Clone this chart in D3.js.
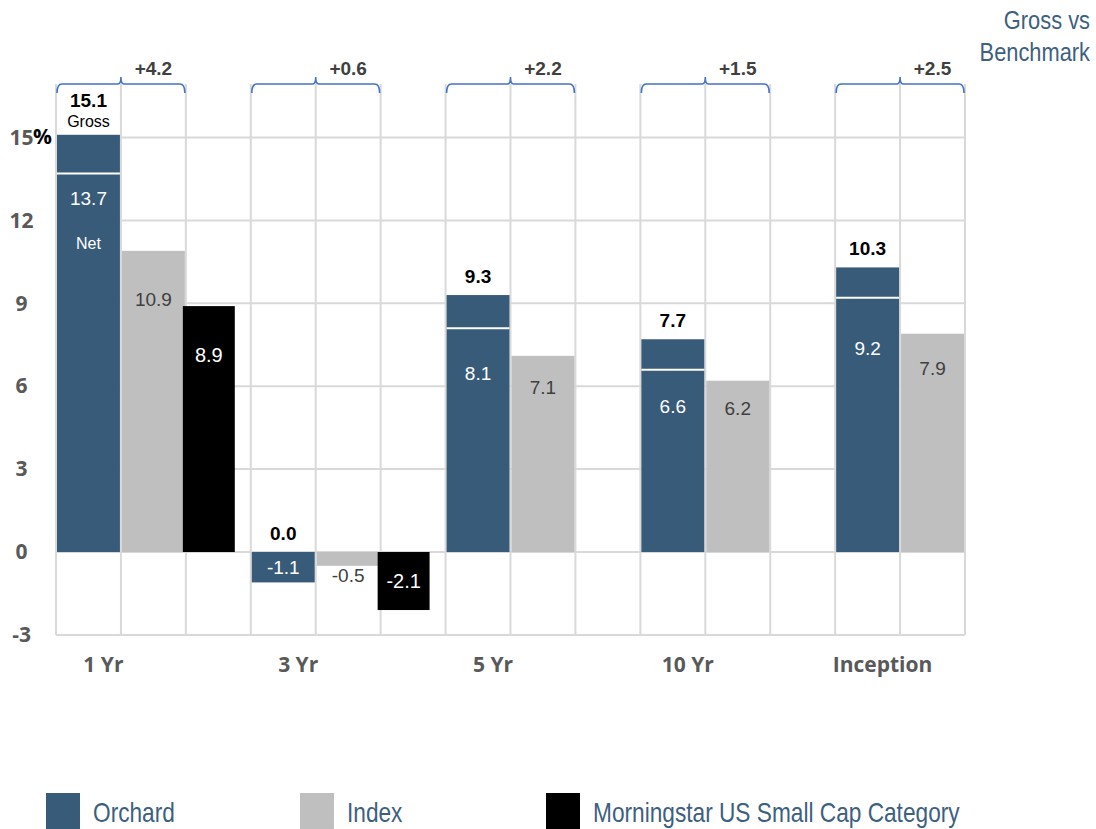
<!DOCTYPE html>
<html>
<head>
<meta charset="utf-8">
<script src="https://cdn.jsdelivr.net/npm/d3@7"></script>
<style>
  body { margin: 0; background: #fff; }
  svg { display: block; }
</style>
</head>
<body>
<svg id="chart" width="1096" height="829"></svg>
<script>
// data
var categories = ["1 Yr", "3 Yr", "5 Yr", "10 Yr", "Inception"];
var seriesNames = ["Orchard", "Index", "Morningstar US Small Cap Category"];
var orchardGross = [15.1, 0.0, 9.3, 7.7, 10.3];
var orchardNet = [13.7, -1.1, 8.1, 6.6, 9.2];
var indexValues = [10.9, -0.5, 7.1, 6.2, 7.9];
var morningstarValues = [8.9, -2.1, null, null, null];
var grossVsBenchmark = [4.2, 0.6, 2.2, 1.5, 2.5];
var yTicks = [-3, 0, 3, 6, 9, 12, 15];

var ORCHARD = "#385b7a", INDEX = "#bfbfbf", MSTAR = "#000000";
var TXT = "#3d5f80", GRID = "#d9d9d9";

var fmt = d3.formatLocale({ decimal: ".", thousands: ",", grouping: [3], currency: ["", ""], minus: "-" });
var f1 = fmt.format(".1f");

var svg = d3.select("#chart");
var left = 56, cw = (965 - 56) / 14;

var gx = d3.scaleBand().domain(categories).range([left, left + 15 * cw]);
var sx = d3.scaleBand().domain(seriesNames).range([0, gx.bandwidth()]);
var y = d3.scaleLinear().domain([-3, 17]).range([634.9, 82.3]);
var right = left + 14 * cw;

var axisFont = "'Open Sans', Lato, sans-serif";
var valueFont = "'Liberation Sans', Arial, sans-serif";
var narrow = "'Liberation Sans', Arial, sans-serif";

// gridlines
svg.append("g").selectAll("line.h")
  .data(yTicks).enter().append("line")
  .attr("x1", left).attr("x2", right)
  .attr("y1", function(d) { return y(d); }).attr("y2", function(d) { return y(d); })
  .attr("stroke", GRID).attr("stroke-width", 2);

svg.append("g").selectAll("line.v")
  .data(d3.range(15)).enter().append("line")
  .attr("x1", function(i) { return left + i * cw; })
  .attr("x2", function(i) { return left + i * cw; })
  .attr("y1", 84).attr("y2", y(-3))
  .attr("stroke", GRID).attr("stroke-width", 2);

// y axis
var yAxis = svg.append("g")
  .attr("transform", "translate(" + left + ",0)")
  .call(d3.axisLeft(y).tickValues(yTicks).tickSize(0).tickFormat(fmt.format("d")));
yAxis.select(".domain").remove();
yAxis.selectAll("text")
  .attr("x", -34.5).attr("text-anchor", "middle")
  .attr("font-family", axisFont)
  .attr("font-weight", "bold").attr("font-size", 21).attr("fill", "#595959");
svg.append("text")
  .attr("x", 33).attr("y", y(15)).attr("dy", "0.32em")
  .attr("font-family", axisFont)
  .attr("font-weight", "bold").attr("font-size", 21).attr("fill", "#000")
  .text("%");

// x axis labels
var xAxis = svg.append("g")
  .attr("transform", "translate(0," + 657 + ")")
  .call(d3.axisBottom(gx).tickSize(0));
xAxis.select(".domain").remove();
xAxis.selectAll("text")
  .attr("dx", -50).attr("y", 0).attr("dy", "0.7em")
  .attr("font-family", axisFont)
  .attr("font-weight", "bold").attr("font-size", 21).attr("fill", "#595959");

var rows = categories.map(function(c, i) {
  return { cat: c, i: i, gross: orchardGross[i], net: orchardNet[i],
           index: indexValues[i], mstar: morningstarValues[i], diff: grossVsBenchmark[i] };
});

// Orchard bars (gross height, net marked by white line)
var og = svg.append("g").selectAll("g").data(rows).enter().append("g");
og.append("rect")
  .attr("x", function(d) { return gx(d.cat) + sx("Orchard") + 1; })
  .attr("width", cw - 2)
  .attr("y", function(d) { return y(Math.max(d.gross, d.net, 0)); })
  .attr("height", function(d) { return y(Math.min(d.net, 0)) - y(Math.max(d.gross, d.net, 0)); })
  .attr("fill", ORCHARD);
og.filter(function(d) { return d.net > 0 && d.net < d.gross; })
  .append("line")
  .attr("x1", function(d) { return gx(d.cat) + sx("Orchard") + 1; })
  .attr("x2", function(d) { return gx(d.cat) + sx("Orchard") + cw - 1; })
  .attr("y1", function(d) { return y(d.net); }).attr("y2", function(d) { return y(d.net); })
  .attr("stroke", "#fff").attr("stroke-width", 2);

// Index bars
svg.append("g").selectAll("rect").data(rows).enter().append("rect")
  .attr("x", function(d) { return gx(d.cat) + sx("Index") + 1; })
  .attr("width", cw - 2)
  .attr("y", function(d) { return y(Math.max(d.index, 0)); })
  .attr("height", function(d) { return Math.abs(y(d.index) - y(0)); })
  .attr("fill", INDEX);

// Morningstar bars
var mrows = rows.filter(function(d) { return d.mstar !== null; });
svg.append("g").selectAll("rect").data(mrows).enter().append("rect")
  .attr("x", function(d) { return gx(d.cat) + sx(seriesNames[2]) - 3; })
  .attr("width", cw * 0.8)
  .attr("y", function(d) { return y(Math.max(d.mstar, 0)); })
  .attr("height", function(d) { return Math.abs(y(d.mstar) - y(0)); })
  .attr("fill", MSTAR);

// labels inside bars
function insideY(v) {
  if (v < 0) return (y(0) + y(v)) / 2;
  return y(v * 0.8);
}
var labels = svg.append("g").attr("font-family", valueFont).attr("text-anchor", "middle");

labels.selectAll("text.net").data(rows).enter().append("text")
  .attr("x", function(d) { return gx(d.cat) + sx("Orchard") + cw / 2; })
  .attr("y", function(d) { return d.i === 0 ? y(d.net) + 25 : insideY(d.net); })
  .attr("dy", "0.35em").attr("font-size", 19).attr("fill", "#fff")
  .text(function(d) { return f1(d.net); });

labels.append("text")
  .attr("x", gx(categories[0]) + cw / 2).attr("y", y(orchardNet[0]) + 70)
  .attr("dy", "0.35em").attr("font-size", 16).attr("fill", "#fff").text("Net");

labels.selectAll("text.idx").data(rows).enter().append("text")
  .attr("x", function(d) { return gx(d.cat) + sx("Index") + cw / 2; })
  .attr("y", function(d) { return d.index < 0 ? y(d.index) + 10 : insideY(d.index * 1.05); })
  .attr("dy", "0.35em").attr("font-size", 19).attr("fill", "#404040")
  .text(function(d) { return f1(d.index); });

labels.selectAll("text.ms").data(mrows).enter().append("text")
  .attr("x", function(d) { return gx(d.cat) + sx(seriesNames[2]) - 3 + cw * 0.4; })
  .attr("y", function(d) { return insideY(d.mstar); })
  .attr("dy", "0.35em").attr("font-size", 20).attr("fill", "#fff")
  .text(function(d) { return f1(d.mstar); });

// gross labels above bars
labels.selectAll("text.gross").data(rows).enter().append("text")
  .attr("x", function(d) { return gx(d.cat) + sx("Orchard") + cw / 2; })
  .attr("y", function(d) { return d.i === 0 ? y(d.gross) - 34 : y(Math.max(d.gross, 0)) - 19; })
  .attr("dy", "0.35em").attr("font-size", 19).attr("font-weight", "bold").attr("fill", "#000")
  .text(function(d) { return f1(d.gross); });

labels.append("text")
  .attr("x", gx(categories[0]) + cw / 2).attr("y", y(orchardGross[0]) - 13)
  .attr("dy", "0.35em").attr("font-size", 16).attr("fill", "#000")
  .text("Gross");

// brackets: gross vs benchmark
var bt = 84, bb = 93;
svg.append("g").selectAll("path").data(rows).enter().append("path")
  .attr("d", function(d) {
    var a = gx(d.cat) + 1, b = gx(d.cat) + 2 * cw - 1, c = gx(d.cat) + cw;
    return "M" + a + "," + bb + " Q" + a + "," + bt + " " + (a + 5) + "," + bt +
      " L" + (c - 3) + "," + bt + " Q" + c + "," + bt + " " + c + "," + (bt - 7) +
      " Q" + c + "," + bt + " " + (c + 3) + "," + bt +
      " L" + (b - 5) + "," + bt + " Q" + b + "," + bt + " " + b + "," + bb;
  })
  .attr("fill", "none").attr("stroke", "#4472c4").attr("stroke-width", 1.6);

svg.append("g").selectAll("text").data(rows).enter().append("text")
  .attr("x", function(d) { return gx(d.cat) + 1.5 * cw; })
  .attr("y", 68).attr("dy", "0.35em").attr("text-anchor", "middle")
  .attr("font-family", valueFont).attr("font-size", 19).attr("font-weight", "bold")
  .attr("fill", "#404040")
  .text(function(d) { return "+" + f1(d.diff); });

// top right caption (condensed look)
["Gross vs", "Benchmark"].forEach(function(t, i) {
  svg.append("text")
    .attr("transform", "translate(1090," + (29 + i * 32) + ") scale(0.84,1)")
    .attr("text-anchor", "end")
    .attr("font-family", narrow).attr("font-size", 26).attr("fill", TXT).text(t);
});

// legend
var legendX = [46, 300, 546];
var legendColors = [ORCHARD, INDEX, MSTAR];
var lg = svg.append("g").selectAll("g").data(seriesNames).enter().append("g")
  .attr("transform", function(d, i) { return "translate(" + legendX[i] + ",793)"; });
lg.append("rect").attr("width", 34).attr("height", 36)
  .attr("fill", function(d, i) { return legendColors[i]; });
lg.append("text")
  .attr("transform", "translate(47,29) scale(0.84,1)")
  .attr("font-family", narrow).attr("font-size", 27).attr("fill", TXT)
  .text(function(d) { return d; });
</script>
</body>
</html>
